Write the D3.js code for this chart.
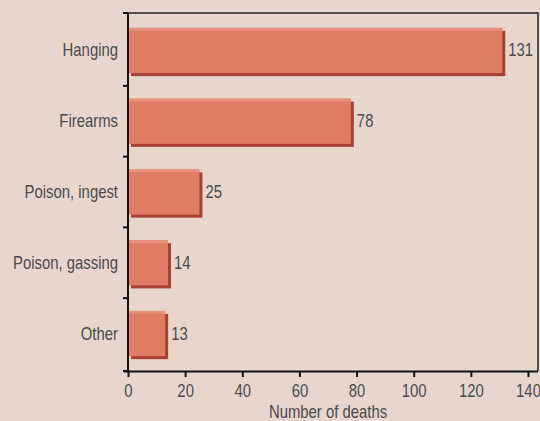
<!DOCTYPE html>
<html>
<head>
<meta charset="utf-8">
<script src="https://cdn.jsdelivr.net/npm/d3@7"></script>
<style>
  html, body { margin: 0; padding: 0; background: #e8d6cd; }
  svg { display: block; }
  text { font-family: "Liberation Sans", Arial, sans-serif; fill: #4a4a4a; }
</style>
</head>
<body>
<script>
// Suicide deaths by method
const categories = ["Hanging", "Firearms", "Poison, ingest", "Poison, gassing", "Other"];
const deaths = [131, 78, 25, 14, 13];
const xTicks = [0, 20, 40, 60, 80, 100, 120, 140];
const xTitle = "Number of deaths";

const W = 540, H = 421;
const plotL = 128, plotR = 538, plotT = 13, plotB = 371;
const FS = 17.5;          // label font size
const SQ = 0.85;          // horizontal squeeze for a condensed look

const svg = d3.select("body").append("svg").attr("width", W).attr("height", H);

const x = d3.scaleLinear().domain([0, 140]).range([plotL, plotL + 400]);
const y = d3.scaleBand().domain(categories).range([plotT, plotB]).paddingInner(0.36).paddingOuter(0.21);

// condensed text helper: position via transform, squeeze horizontally
function label(sel, tx, ty) {
  return sel.attr("transform", (d, i) => `translate(${tx(d, i)},${ty(d, i)}) scale(${SQ},1)`)
    .attr("font-size", FS);
}

// frame: top and right edges
svg.append("path")
  .attr("d", `M${plotL},${plotT}H${plotR}V${plotB}`)
  .attr("fill", "none").attr("stroke", "#222").attr("stroke-width", 1.5);

// bars with drop shadow
const rows = svg.append("g").selectAll("g").data(categories).join("g");
rows.append("rect")
  .attr("x", plotL + 3)
  .attr("y", d => y(d) + 3)
  .attr("width", (d, i) => x(deaths[i]) - plotL)
  .attr("height", y.bandwidth())
  .attr("fill", "#a8412f");
rows.append("rect")
  .attr("x", plotL)
  .attr("y", d => y(d))
  .attr("width", (d, i) => x(deaths[i]) - plotL)
  .attr("height", y.bandwidth())
  .attr("fill", "#e17c64");
rows.append("rect")
  .attr("x", plotL)
  .attr("y", d => y(d))
  .attr("width", (d, i) => x(deaths[i]) - plotL)
  .attr("height", 3)
  .attr("fill", "#e8907a");
label(rows.append("text"), (d, i) => x(deaths[i]) + 6, d => y(d) + y.bandwidth() / 2 + 6)
  .text((d, i) => deaths[i]);

// category axis (ticks at band boundaries)
const yAxis = svg.append("g").attr("transform", `translate(${plotL},0)`);
yAxis.append("line").attr("x1", 0).attr("x2", 0).attr("y1", plotT).attr("y2", plotB)
  .attr("stroke", "#111").attr("stroke-width", 2);
const bounds = categories.map(c => y(c) - y.step() * y.paddingInner() / 2).concat([plotB]);
bounds[0] = plotT;
yAxis.selectAll("line.tk").data(bounds).join("line").attr("class", "tk")
  .attr("x1", -5).attr("x2", 0).attr("y1", d => d).attr("y2", d => d)
  .attr("stroke", "#111").attr("stroke-width", 2);
label(yAxis.selectAll("text").data(categories).join("text"), () => -10, d => y(d) + y.bandwidth() / 2 + 6)
  .attr("text-anchor", "end")
  .text(d => d);

// value axis
const xAxis = svg.append("g").attr("transform", `translate(0,${plotB})`)
  .call(d3.axisBottom(x).tickValues(xTicks).tickSize(6).tickPadding(8).tickSizeOuter(0));
xAxis.select(".domain").attr("d", `M${plotL - 4},0.5H${plotR}`).attr("stroke", "#111").attr("stroke-width", 2);
xAxis.selectAll(".tick line").attr("stroke", "#111").attr("stroke-width", 2);
xAxis.selectAll(".tick text")
  .attr("font-size", FS).attr("fill", "#4a4a4a")
  .attr("font-family", "\"Liberation Sans\", Arial, sans-serif")
  .attr("transform", `scale(${SQ},1)`);

label(svg.append("text"), () => (plotL + x(140)) / 2, () => 418)
  .attr("text-anchor", "middle")
  .text(xTitle);
</script>
</body>
</html>
